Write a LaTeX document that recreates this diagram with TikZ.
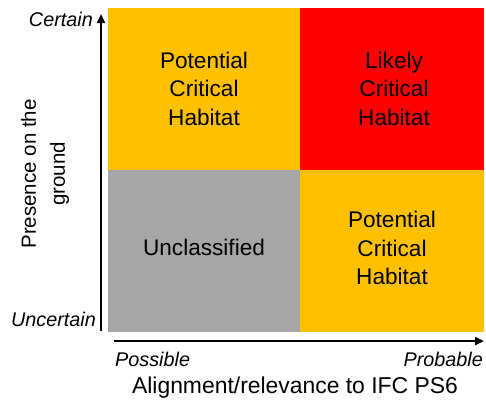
\documentclass[tikz,border=0pt]{standalone}
\usepackage{fontspec}
\setmainfont{Liberation Sans}
\usetikzlibrary{arrows.meta}
\definecolor{qorange}{HTML}{FFC000}
\definecolor{qred}{HTML}{FF0000}
\definecolor{qgray}{HTML}{A6A6A6}
\tikzset{
  cell/.style={draw=none, inner sep=0pt, minimum width=#1},
  qtext/.style={align=center, inner sep=0pt, font=\fontsize{22.6bp}{28.5bp}\selectfont},
  axlab/.style={inner sep=0pt, font=\fontsize{19.8bp}{24bp}\selectfont\itshape},
  axtitle/.style={inner sep=0pt, align=center, font=\fontsize{20.5bp}{29bp}\selectfont},
  axarrow/.style={line width=2.2bp, -{Triangle[length=9bp,width=8bp]}}
}
\begin{document}
\begin{tikzpicture}[x=1bp,y=-1bp]
\useasboundingbox (0,0) rectangle (486,400);
% quadrants
\fill[qorange] (108,8) rectangle (300,170);
\fill[qred] (300,8) rectangle (484,170);
\fill[qgray] (108,170) rectangle (300,332);
\fill[qorange] (300,170) rectangle (484,332);
\node[qtext] (tl) at (204,88.5) {Potential\\Critical\\Habitat};
\node[qtext] (tr) at (394,88.5) {Likely\\Critical\\Habitat};
\node[qtext] (bl) at (204,247) {Unclassified};
\node[qtext] (br) at (392,248) {Potential\\Critical\\Habitat};
% axes
\coordinate (ybot) at (101,331);
\coordinate (ytop) at (101,14);
\coordinate (xl) at (114,341);
\coordinate (xr) at (484,341);
\draw[axarrow] (ybot) -- (ytop);
\draw[axarrow] (xl) -- (xr);
% axis labels
\node[axlab, anchor=base east] (cert) at (93,26) {Certain};
\node[axlab, anchor=base east] (unc) at (96,326) {Uncertain};
\node[axlab, anchor=base west] (poss) at (115,366) {Possible};
\node[axlab, anchor=base east] (prob) at (483,366) {Probable};
\node[inner sep=0pt, anchor=base, font=\fontsize{22.9bp}{28bp}\selectfont] (xt) at (295,393) {Alignment/relevance to IFC PS6};
\node[axtitle, rotate=90] (yt) at (45,174) {Presence on the\\ground};
\end{tikzpicture}
\end{document}
